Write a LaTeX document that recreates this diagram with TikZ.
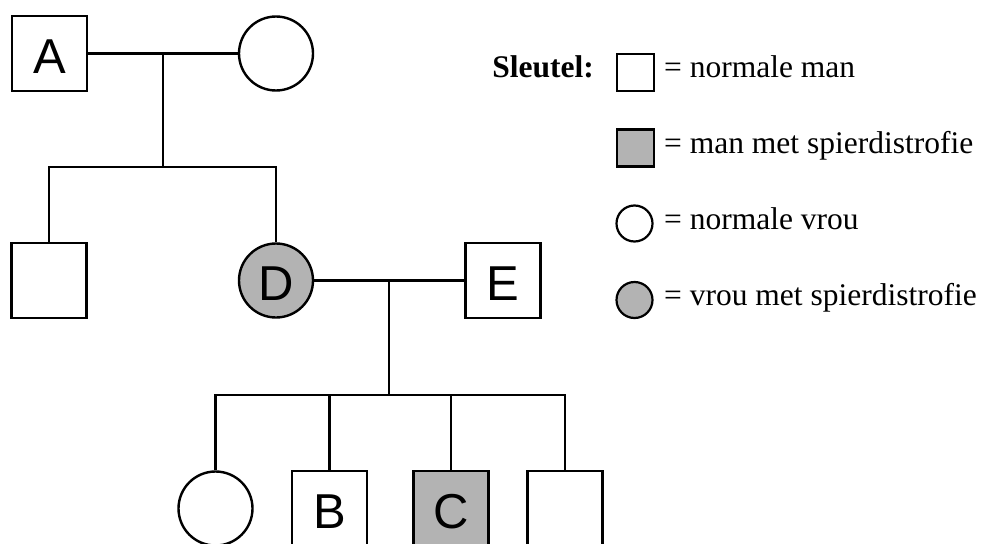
\documentclass[tikz,border=0pt]{standalone}
\usepackage{fontspec}
\setmainfont{Liberation Serif}
\newfontfamily\lettfont{Liberation Sans}
\usetikzlibrary{calc}
\definecolor{affgray}{RGB}{179,179,179}
\begin{document}
\begin{tikzpicture}[x=1pt,y=-1pt,line width=2.4pt,
  letter/.style={font=\lettfont\fontsize{49}{56}\selectfont,text height=40pt,text depth=0pt},
  male/.style={draw,rectangle,minimum size=75pt,inner sep=0pt,letter},
  female/.style={draw,circle,minimum size=74pt,inner sep=0pt,letter},
  affected/.style={fill=affgray},
  keyicon/.style={draw,rectangle,minimum size=37pt,inner sep=0pt,line width=2.2pt},
  keytext/.style={anchor=base west,inner sep=0pt,font=\fontsize{31.5}{36}\selectfont}]
\useasboundingbox (0,0) rectangle (981,543);
\clip (0,0) rectangle (981,543);
% generation I
\node[male] (A) at (49.5,53.5) {A};
\node[female] (M) at (276,53.5) {};
% generation II
\node[male] (S1) at (49,280.5) {};
\node[female,affected] (D) at (276,280.5) {D};
\node[male] (E) at (503,280.5) {E};
% generation III
\node[female] (G1) at (215.5,508.5) {};
\node[male] (B) at (329.5,508.5) {B};
\node[male,affected] (C) at (451,508.5) {C};
\node[male] (G4) at (565,508.5) {};
% connectors
\coordinate (j1) at ($(A.east)!0.5!(M.west)$);
\coordinate (s1) at (163,167);
\draw (A) -- (M);
\draw (j1) -- (j1 |- s1);
\draw (S1.north) |- (s1) -| (D.north);
\coordinate (j2) at ($(D.east)!0.5!(E.west)$);
\coordinate (s2) at (390,395);
\draw (D) -- (E);
\draw (j2) -- (j2 |- s2);
\draw (G1.north) |- (s2) -| (G4.north);
\draw (B.north) -- (B.north |- s2);
\draw (C.north) -- (C.north |- s2);
% key
\node[anchor=base east,inner sep=0pt,font=\bfseries\fontsize{31.5}{36}\selectfont] (key) at (595,77) {Sleutel:};
\node[keyicon] (k1) at (635.5,72.5) {};
\node[keyicon,affected] (k2) at (635.5,148) {};
\node[keyicon,circle,minimum size=36pt] (k3) at (634.5,223.5) {};
\node[keyicon,circle,minimum size=36pt,affected] (k4) at (634.5,300) {};
\node[keytext] (t1) at (663,77) {= normale man};
\node[keytext] (t2) at (663,153) {= man met spierdistrofie};
\node[keytext] (t3) at (663,229) {= normale vrou};
\node[keytext] (t4) at (663,305) {= vrou met spierdistrofie};
\end{tikzpicture}
\end{document}
